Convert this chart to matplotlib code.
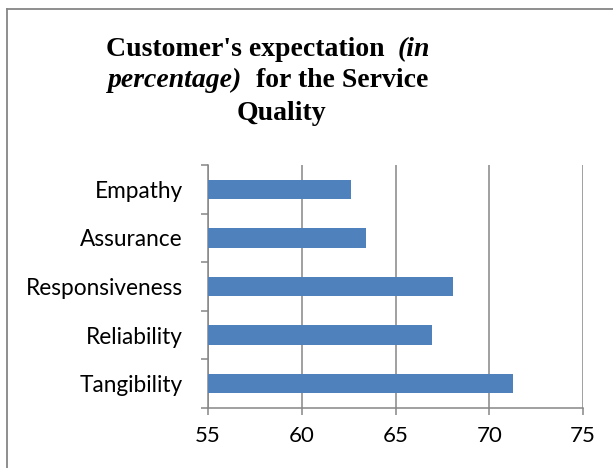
import matplotlib
matplotlib.use("Agg")
import matplotlib.pyplot as plt
from matplotlib.lines import Line2D

# bottom to top
categories = ["Tangibility", "Reliability", "Responsiveness", "Assurance", "Empathy"]
values = [71.26, 66.93, 68.05, 63.44, 62.6]
xticks = [55, 60, 65, 70, 75]

gray = "#868686"
blue = "#4F81BD"

W, H = 613, 468
fig = plt.figure(figsize=(W / 100, H / 100), dpi=100)
ax = fig.add_axes([208 / W, 60 / H, 375 / W, 243 / H])

ypos = list(range(len(categories)))
ax.barh(ypos, [v - 55 for v in values], left=55, height=0.4, color=blue,
        zorder=3)

ax.set_xlim(55, 75)
ax.set_ylim(-0.5, len(categories) - 0.5)
ax.set_xticks(xticks)
ax.set_xticklabels([str(t) for t in xticks], family="Lato", fontsize=16)

# category boundary ticks + centred labels
ax.set_yticks([i - 0.5 for i in range(len(categories) + 1)])
ax.set_yticklabels([])
ax.set_yticks(ypos, minor=True)
ax.set_yticklabels(categories, minor=True, family="Lato", fontsize=16.3)
ax.tick_params(axis="y", which="minor", length=0, pad=18)
ax.tick_params(axis="y", which="major", length=5, width=1.1, color=gray)
ax.tick_params(axis="x", length=5, width=1.1, color=gray, pad=8)

ax.grid(axis="x", color=gray, linewidth=1.1, zorder=0)
for s in ["top", "right"]:
    ax.spines[s].set_visible(False)
for s in ["left", "bottom"]:
    ax.spines[s].set_color(gray)
    ax.spines[s].set_linewidth(1.1)

# chart frame (only left and top visible in the crop)
fig.add_artist(Line2D([7 / W, 7 / W], [0, 1 - 9 / H],
                      transform=fig.transFigure, color=gray, lw=1.3))
fig.add_artist(Line2D([7 / W, 1], [1 - 9 / H, 1 - 9 / H],
                      transform=fig.transFigure, color=gray, lw=1.3))

# title with mixed bold / bold-italic pieces, placed on baselines
tfont = "Liberation Serif"
tsize = 20
lines = [
    ([("Customer's expectation  ", False), ("(in", True)], 268, 56),
    ([("percentage)", True), ("  for the Service", False)], 268, 87),
    ([("Quality", False)], 281, 120),
]
renderer = fig.canvas.get_renderer()
for parts, cx, base in lines:
    texts = [fig.text(0, 1 - base / H, s, family=tfont, size=tsize,
                      weight="bold", style="italic" if it else "normal",
                      ha="left", va="baseline")
             for s, it in parts]
    widths = [t.get_window_extent(renderer).width for t in texts]
    x = cx - sum(widths) / 2
    for t, w in zip(texts, widths):
        t.set_x(x / W)
        x += w

fig.savefig("out.png", dpi=100)
